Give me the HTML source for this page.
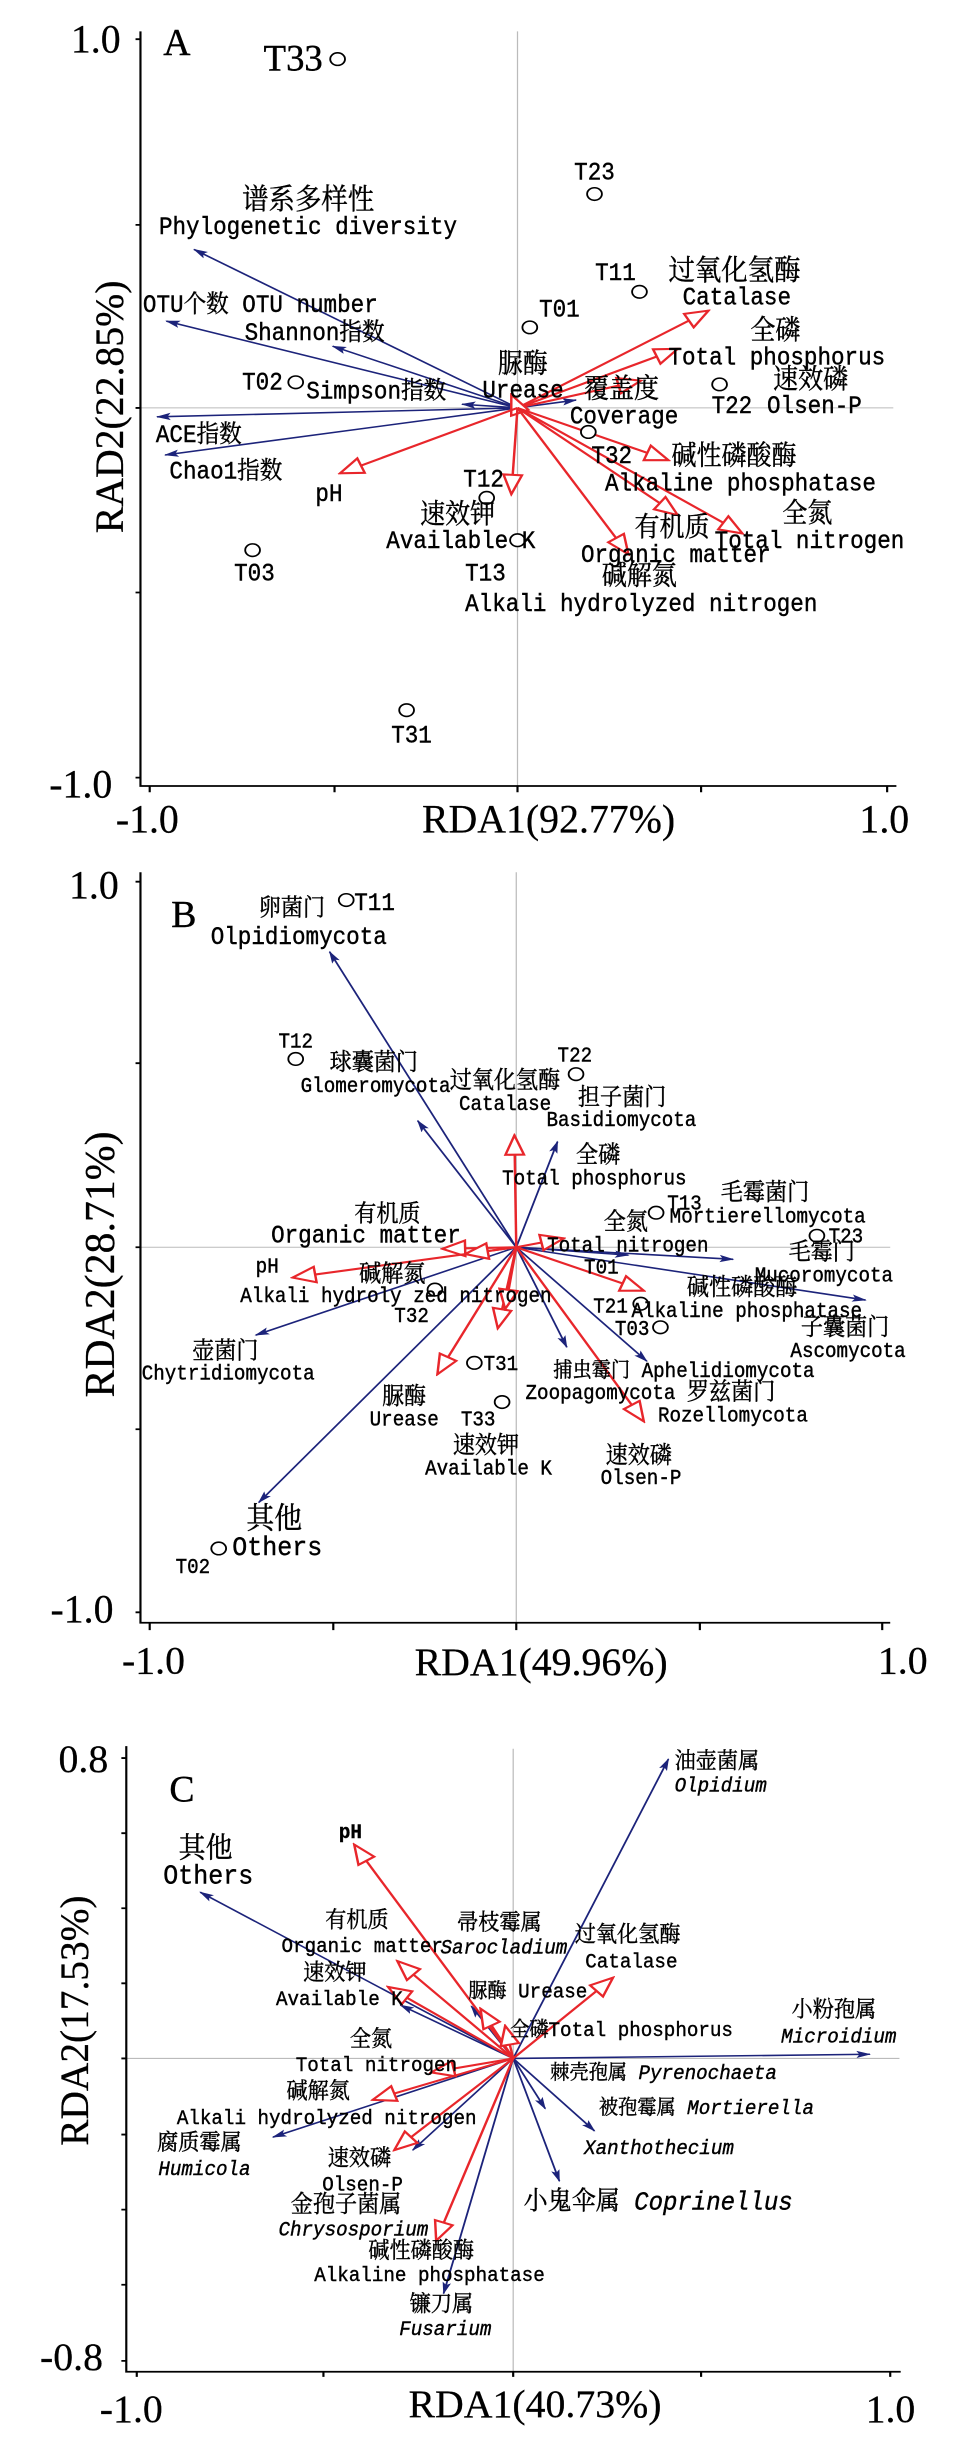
<!DOCTYPE html>
<html><head><meta charset="utf-8"><style>
html,body{margin:0;padding:0;background:#fff;width:966px;height:2452px;overflow:hidden}
svg{display:block;overflow:visible}
text{font-family:"Liberation Mono","Noto Serif CJK SC",serif;fill:#000;stroke:#000;stroke-width:0.8}
.s{font-size:47px}.b{font-size:40px}.c{font-size:40px}
.L{font-size:72px;font-family:"Liberation Serif","Noto Serif CJK SC",serif}
.ax text{font-family:"Liberation Serif","Noto Serif CJK SC",serif;font-size:76px;stroke-width:0.5}
.it{font-style:italic}
.bl{stroke:#1c237a;stroke-width:3;fill:none}
.rd{stroke:#e8262b;stroke-width:4;fill:none}
.ax-l{stroke:#000;stroke-width:3.5;fill:none}
.gr{stroke:#bbb;stroke-width:2}
</style></head><body>
<svg width="0" height="0" style="position:absolute"><defs>
<marker id="mb" viewBox="0 0 24 16" refX="22" refY="8" markerWidth="24" markerHeight="16" markerUnits="userSpaceOnUse" orient="auto"><path d="M0,1 L24,8 L0,15 L5,8 z" fill="#1c237a"/></marker>
<marker id="mr" viewBox="0 0 44 36" refX="40" refY="18" markerWidth="44" markerHeight="36" markerUnits="userSpaceOnUse" orient="auto"><path d="M3,3 L40,18 L3,33 z" fill="#fff" stroke="#e8262b" stroke-width="4"/></marker>
</defs></svg>

<!-- Panel A -->
<svg width="966" height="820" viewBox="0 0 1568 1568" preserveAspectRatio="none">
<line class="gr" x1="840" y1="60" x2="840" y2="1503"/><line class="gr" x1="228" y1="780" x2="1450" y2="780"/>
<path class="ax-l" d="M228,60 V1503 H1455"/>
<path class="ax-l" d="M228,75 h-8 M228,430 h-8 M228,780 h-8 M228,1133 h-8 M228,1487 h-8 M243,1503 v12 M543,1503 v12 M840,1503 v12 M1138,1503 v12 M1440,1503 v12"/>
<g class="bl" marker-end="url(#mb)">
<line x1="840" y1="780" x2="315" y2="477"/><line x1="840" y1="780" x2="270" y2="614"/>
<line x1="840" y1="780" x2="540" y2="662"/><line x1="840" y1="780" x2="750" y2="773"/>
<line x1="840" y1="780" x2="255" y2="797"/><line x1="840" y1="780" x2="268" y2="870"/>
<line x1="840" y1="780" x2="935" y2="765"/></g>
<g class="rd" marker-end="url(#mr)">
<line x1="840" y1="780" x2="1150" y2="594"/><line x1="840" y1="780" x2="1100" y2="667"/>
<line x1="840" y1="780" x2="1040" y2="728"/><line x1="840" y1="780" x2="830" y2="755"/>
<line x1="840" y1="780" x2="1085" y2="880"/><line x1="840" y1="780" x2="1205" y2="1020"/>
<line x1="840" y1="780" x2="1100" y2="985"/><line x1="840" y1="780" x2="1020" y2="1060"/>
<line x1="840" y1="780" x2="552" y2="905"/><line x1="840" y1="780" x2="830" y2="945"/></g>
<g fill="#fff" stroke="#000" stroke-width="3">
<circle cx="548" cy="113" r="12"/><circle cx="965" cy="371" r="12"/><circle cx="1038" cy="558" r="12"/><circle cx="860" cy="626" r="12"/><circle cx="480" cy="731" r="12"/><circle cx="1168" cy="735" r="12"/><circle cx="955" cy="826" r="12"/><circle cx="790" cy="952" r="12"/><circle cx="840" cy="1033" r="12"/><circle cx="410" cy="1052" r="12"/><circle cx="660" cy="1358" r="12"/></g>
<g class="s">
<text class="L" transform="matrix(.85 0 0 1 265 105)">A</text>
<text class="L" style="font-size:70px" transform="matrix(.85 0 0 1 428 135)">T33</text>
<text transform="matrix(.78 0 0 1 932 343)">T23</text><text transform="matrix(.78 0 0 1 966 535)">T11</text>
<text transform="matrix(.78 0 0 1 875 605)">T01</text><text transform="matrix(.78 0 0 1 393 745)">T02</text>
<text transform="matrix(.78 0 0 1 1155 790)">T22</text><text transform="matrix(.78 0 0 1 960 885)">T32</text>
<text transform="matrix(.78 0 0 1 752 930)">T12</text><text transform="matrix(.78 0 0 1 755 1110)">T13</text>
<text transform="matrix(.78 0 0 1 380 1110)">T03</text><text transform="matrix(.78 0 0 1 635 1420)">T31</text>
<text transform="matrix(.78 0 0 1 393 400)" style="font-size:55px">谱系多样性</text>
<text transform="matrix(.78 0 0 1 258 447)">Phylogenetic diversity</text>
<text transform="matrix(.78 0 0 1 232 597)">OTU个数  OTU number</text>
<text transform="matrix(.78 0 0 1 397 650)">Shannon指数</text>
<text transform="matrix(.78 0 0 1 497 762)">Simpson指数</text>
<text transform="matrix(.78 0 0 1 253 845)">ACE指数</text>
<text transform="matrix(.78 0 0 1 275 915)">Chao1指数</text>
<text transform="matrix(.78 0 0 1 512 958)">pH</text>
<text transform="matrix(.78 0 0 1 808 712)" style="font-size:52px">脲酶</text>
<text transform="matrix(.78 0 0 1 783 760)">Urease</text>
<text transform="matrix(.78 0 0 1 948 760)" style="font-size:52px">覆盖度</text>
<text transform="matrix(.78 0 0 1 925 810)">Coverage</text>
<text transform="matrix(.78 0 0 1 1085 535)" style="font-size:55px">过氧化氢酶</text>
<text transform="matrix(.78 0 0 1 1108 582)">Catalase</text>
<text transform="matrix(.78 0 0 1 1218 648)" style="font-size:52px">全磷</text>
<text transform="matrix(.78 0 0 1 1085 697)">Total phosphorus</text>
<text transform="matrix(.78 0 0 1 1255 742)" style="font-size:52px">速效磷</text>
<text transform="matrix(.78 0 0 1 1245 790)">Olsen-P</text>
<text transform="matrix(.78 0 0 1 1090 888)" style="font-size:52px">碱性磷酸酶</text>
<text transform="matrix(.78 0 0 1 982 938)">Alkaline phosphatase</text>
<text transform="matrix(.78 0 0 1 1270 998)" style="font-size:52px">全氮</text>
<text transform="matrix(.78 0 0 1 1160 1048)">Total nitrogen</text>
<text transform="matrix(.78 0 0 1 1030 1025)" style="font-size:52px">有机质</text>
<text transform="matrix(.78 0 0 1 943 1075)">Organic matter</text>
<text transform="matrix(.78 0 0 1 977 1118)" style="font-size:52px">碱解氮</text>
<text transform="matrix(.78 0 0 1 755 1168)">Alkali hydrolyzed nitrogen</text>
<text transform="matrix(.78 0 0 1 682 1000)" style="font-size:52px">速效钾</text>
<text transform="matrix(.78 0 0 1 627 1048)">Available K</text>
</g>
<g class="ax">
<text transform="matrix(.85 0 0 1 115 100)">1.0</text>
<text transform="matrix(.85 0 0 1 80 1525)">-1.0</text>
<text transform="matrix(.85 0 0 1 188 1592)">-1.0</text>
<text transform="matrix(.85 0 0 1 685 1592)">RDA1(92.77%)</text>
<text transform="matrix(.85 0 0 1 1395 1592)">1.0</text>
<text text-anchor="middle" transform="translate(200,778) rotate(-90) scale(1,.85)">RAD2(22.85%)</text>
</g>
</svg>

<!-- Panel B -->
<svg width="966" height="820" viewBox="0 0 1568 1568" preserveAspectRatio="none">
<line class="gr" x1="838" y1="100" x2="838" y2="1535"/><line class="gr" x1="228" y1="817" x2="1445" y2="817"/>
<path class="ax-l" d="M228,100 V1535 H1445"/>
<path class="ax-l" d="M228,118 h-8 M228,465 h-8 M228,817 h-8 M228,1165 h-8 M228,1515 h-8 M243,1535 v14 M541,1535 v14 M838,1535 v14 M1136,1535 v14 M1432,1535 v14"/>
<g class="bl" marker-end="url(#mb)">
<line x1="838" y1="817" x2="535" y2="252"/><line x1="838" y1="817" x2="678" y2="575"/>
<line x1="838" y1="817" x2="905" y2="615"/><line x1="838" y1="817" x2="1020" y2="832"/>
<line x1="838" y1="817" x2="1190" y2="840"/><line x1="838" y1="817" x2="1405" y2="918"/>
<line x1="838" y1="817" x2="1050" y2="1035"/><line x1="838" y1="817" x2="920" y2="1008"/>
<line x1="838" y1="817" x2="415" y2="985"/><line x1="838" y1="817" x2="420" y2="1305"/></g>
<g class="rd" marker-end="url(#mr)">
<line x1="838" y1="817" x2="835" y2="603"/><line x1="838" y1="817" x2="915" y2="800"/>
<line x1="838" y1="817" x2="718" y2="820"/><line x1="838" y1="817" x2="475" y2="875"/>
<line x1="838" y1="817" x2="755" y2="830"/><line x1="838" y1="817" x2="1045" y2="900"/>
<line x1="838" y1="817" x2="1045" y2="1150"/><line x1="838" y1="817" x2="710" y2="1060"/>
<line x1="838" y1="817" x2="808" y2="972"/><line x1="838" y1="817" x2="820" y2="935"/></g>
<g fill="#fff" stroke="#000" stroke-width="3">
<circle cx="562" cy="153" r="12"/><circle cx="480" cy="457" r="12"/><circle cx="935" cy="486" r="12"/><circle cx="1065" cy="751" r="12"/><circle cx="1326" cy="795" r="12"/><circle cx="706" cy="898" r="12"/><circle cx="1040" cy="925" r="12"/><circle cx="1072" cy="970" r="12"/><circle cx="770" cy="1038" r="12"/><circle cx="815" cy="1113" r="12"/><circle cx="355" cy="1393" r="12"/></g>
<g class="b">
<text class="L" transform="matrix(.85 0 0 1 278 205)">B</text>
<text transform="matrix(.78 0 0 1 420 183)" style="font-size:46px">卵菌门</text>
<text transform="matrix(.78 0 0 1 575 172)" style="font-size:47px">T11</text>
<text transform="matrix(.78 0 0 1 342 237)" style="font-size:47px">Olpidiomycota</text>
<text transform="matrix(.78 0 0 1 452 435)">T12</text>
<text transform="matrix(.78 0 0 1 535 478)" style="font-size:46px">球囊菌门</text>
<text transform="matrix(.78 0 0 1 488 520)">Glomeromycota</text>
<text transform="matrix(.78 0 0 1 730 512)" style="font-size:46px">过氧化氢酶</text>
<text transform="matrix(.78 0 0 1 745 555)">Catalase</text>
<text transform="matrix(.78 0 0 1 905 462)">T22</text>
<text transform="matrix(.78 0 0 1 938 545)" style="font-size:46px">担子菌门</text>
<text transform="matrix(.78 0 0 1 887 585)">Basidiomycota</text>
<text transform="matrix(.78 0 0 1 935 655)" style="font-size:46px">全磷</text>
<text transform="matrix(.78 0 0 1 815 697)">Total phosphorus</text>
<text transform="matrix(.78 0 0 1 1170 727)" style="font-size:46px">毛霉菌门</text>
<text transform="matrix(.78 0 0 1 1083 745)">T13</text>
<text transform="matrix(.78 0 0 1 1087 770)">Mortierellomycota</text>
<text transform="matrix(.78 0 0 1 980 783)" style="font-size:46px">全氮</text>
<text transform="matrix(.78 0 0 1 888 825)">Total nitrogen</text>
<text transform="matrix(.78 0 0 1 1345 808)">T23</text>
<text transform="matrix(.78 0 0 1 1280 840)" style="font-size:46px">毛霉门</text>
<text transform="matrix(.78 0 0 1 1225 882)">Mucoromycota</text>
<text transform="matrix(.78 0 0 1 575 768)" style="font-size:46px">有机质</text>
<text transform="matrix(.78 0 0 1 440 808)" style="font-size:47px">Organic matter</text>
<text transform="matrix(.78 0 0 1 415 865)">pH</text>
<text transform="matrix(.78 0 0 1 583 882)" style="font-size:46px">碱解氮</text>
<text transform="matrix(.78 0 0 1 390 922)">Alkali hydroly zed nitrogen</text>
<text transform="matrix(.78 0 0 1 948 867)">T01</text>
<text transform="matrix(.78 0 0 1 1115 908)" style="font-size:46px">碱性磷酸酶</text>
<text transform="matrix(.78 0 0 1 963 942)">T21</text>
<text transform="matrix(.78 0 0 1 1025 950)">Alkaline phosphatase</text>
<text transform="matrix(.78 0 0 1 998 985)">T03</text>
<text transform="matrix(.78 0 0 1 640 960)">T32</text>
<text transform="matrix(.78 0 0 1 1300 985)" style="font-size:46px">子囊菌门</text>
<text transform="matrix(.78 0 0 1 1283 1027)">Ascomycota</text>
<text transform="matrix(.78 0 0 1 312 1030)" style="font-size:46px">壶菌门</text>
<text transform="matrix(.78 0 0 1 230 1070)">Chytridiomycota</text>
<text transform="matrix(.78 0 0 1 785 1052)">T31</text>
<text transform="matrix(.78 0 0 1 898 1065)">捕虫霉门 Aphelidiomycota</text>
<text transform="matrix(.78 0 0 1 853 1107)">Zoopagomycota</text>
<text transform="matrix(.78 0 0 1 1115 1108)" style="font-size:46px">罗兹菌门</text>
<text transform="matrix(.78 0 0 1 1068 1150)">Rozellomycota</text>
<text transform="matrix(.78 0 0 1 620 1117)" style="font-size:46px">脲酶</text>
<text transform="matrix(.78 0 0 1 600 1158)">Urease</text>
<text transform="matrix(.78 0 0 1 748 1158)">T33</text>
<text transform="matrix(.78 0 0 1 735 1210)" style="font-size:46px">速效钾</text>
<text transform="matrix(.78 0 0 1 690 1252)">Available K</text>
<text transform="matrix(.78 0 0 1 983 1230)" style="font-size:46px">速效磷</text>
<text transform="matrix(.78 0 0 1 975 1270)">Olsen-P</text>
<text transform="matrix(.78 0 0 1 400 1355)" style="font-size:58px">其他</text>
<text transform="matrix(.78 0 0 1 377 1405)" style="font-size:52px">Others</text>
<text transform="matrix(.78 0 0 1 285 1440)">T02</text>
</g>
<g class="ax">
<text transform="matrix(.85 0 0 1 112 150)">1.0</text>
<text transform="matrix(.85 0 0 1 82 1535)">-1.0</text>
<text style="font-size:80px" text-anchor="middle" transform="translate(185,850) rotate(-90) scale(1,.85)">RDA2(28.71%)</text>
</g>
</svg>

<!-- Panel C -->
<svg width="966" height="812" viewBox="0 0 1568 1568" preserveAspectRatio="none">
<g class="ax">
<text transform="matrix(.85 0 0 1 198 65)">-1.0</text>
<text transform="matrix(.85 0 0 1 673 68)">RDA1(49.96%)</text>
<text transform="matrix(.85 0 0 1 1425 65)">1.0</text>
</g>
<line class="gr" x1="833" y1="210" x2="833" y2="1413"/><line class="gr" x1="205" y1="808" x2="1460" y2="808"/>
<path class="ax-l" d="M205,205 V1413 H1462"/>
<path class="ax-l" d="M205,228 h-8 M205,373 h-8 M205,518 h-8 M205,663 h-8 M205,808 h-8 M205,955 h-8 M205,1100 h-8 M205,1245 h-8 M205,1392 h-8 M222,1413 v10 M525,1413 v10 M833,1413 v10 M1138,1413 v10 M1445,1413 v10"/>
<g class="bl" marker-end="url(#mb)">
<line x1="833" y1="808" x2="1085" y2="230"/><line x1="833" y1="808" x2="325" y2="487"/>
<line x1="833" y1="808" x2="1412" y2="800"/><line x1="833" y1="808" x2="443" y2="960"/>
<line x1="833" y1="808" x2="720" y2="1262"/><line x1="833" y1="808" x2="908" y2="1045"/>
<line x1="833" y1="808" x2="965" y2="948"/><line x1="833" y1="808" x2="885" y2="905"/>
<line x1="833" y1="808" x2="765" y2="707"/><line x1="833" y1="808" x2="650" y2="705"/>
<line x1="833" y1="808" x2="670" y2="985"/></g>
<g class="rd" marker-end="url(#mr)">
<line x1="833" y1="808" x2="575" y2="395"/><line x1="833" y1="808" x2="645" y2="620"/>
<line x1="833" y1="808" x2="630" y2="670"/><line x1="833" y1="808" x2="780" y2="712"/>
<line x1="833" y1="808" x2="995" y2="652"/><line x1="833" y1="808" x2="820" y2="745"/>
<line x1="833" y1="808" x2="700" y2="835"/><line x1="833" y1="808" x2="605" y2="888"/>
<line x1="833" y1="808" x2="640" y2="985"/><line x1="833" y1="808" x2="708" y2="1160"/></g>
<g class="c">
<text class="L" transform="matrix(.85 0 0 1 275 312)">C</text>
<text transform="matrix(.78 0 0 1 1095 248)" style="font-size:44px">油壶菌属</text>
<text class="it" transform="matrix(.78 0 0 1 1095 293)">Olpidium</text>
<text transform="matrix(.78 0 0 1 290 420)" style="font-size:56px">其他</text>
<text transform="matrix(.78 0 0 1 265 470)" style="font-size:52px">Others</text>
<text transform="matrix(.78 0 0 1 550 382)" style="font-weight:bold">pH</text>
<text transform="matrix(.78 0 0 1 528 555)" style="font-size:44px">有机质</text>
<text transform="matrix(.78 0 0 1 457 602)">Organic matter</text>
<text transform="matrix(.78 0 0 1 742 560)" style="font-size:44px">帚枝霉属</text>
<text class="it" transform="matrix(.78 0 0 1 715 605)">Sarocladium</text>
<text transform="matrix(.78 0 0 1 933 583)" style="font-size:44px">过氧化氢酶</text>
<text transform="matrix(.78 0 0 1 950 632)">Catalase</text>
<text transform="matrix(.78 0 0 1 492 657)" style="font-size:44px">速效钾</text>
<text transform="matrix(.78 0 0 1 448 705)">Available K</text>
<text transform="matrix(.78 0 0 1 760 690)">脲酶 Urease</text>
<text transform="matrix(.78 0 0 1 828 765)">全磷Total phosphorus</text>
<text transform="matrix(.78 0 0 1 1285 728)" style="font-size:44px">小粉孢属</text>
<text class="it" transform="matrix(.78 0 0 1 1268 777)">Microidium</text>
<text transform="matrix(.78 0 0 1 568 785)" style="font-size:44px">全氮</text>
<text transform="matrix(.78 0 0 1 480 832)">Total nitrogen</text>
<text transform="matrix(.78 0 0 1 893 848)">棘壳孢属 <tspan class="it">Pyrenochaeta</tspan></text>
<text transform="matrix(.78 0 0 1 465 885)" style="font-size:44px">碱解氮</text>
<text transform="matrix(.78 0 0 1 287 935)">Alkali hydrolyzed nitrogen</text>
<text transform="matrix(.78 0 0 1 972 915)">被孢霉属 <tspan class="it">Mortierella</tspan></text>
<text transform="matrix(.78 0 0 1 255 985)" style="font-size:44px">腐质霉属</text>
<text class="it" transform="matrix(.78 0 0 1 257 1033)">Humicola</text>
<text class="it" transform="matrix(.78 0 0 1 948 993)">Xanthothecium</text>
<text transform="matrix(.78 0 0 1 532 1015)" style="font-size:44px">速效磷</text>
<text transform="matrix(.78 0 0 1 523 1063)">Olsen-P</text>
<text transform="matrix(.78 0 0 1 472 1105)" style="font-size:46px">金孢子菌属</text>
<text class="it" transform="matrix(.78 0 0 1 452 1150)">Chrysosporium</text>
<text transform="matrix(.78 0 0 1 850 1100)" style="font-size:50px">小鬼伞属 <tspan class="it">Coprinellus</tspan></text>
<text transform="matrix(.78 0 0 1 598 1193)" style="font-size:44px">碱性磷酸酶</text>
<text transform="matrix(.78 0 0 1 510 1238)">Alkaline phosphatase</text>
<text transform="matrix(.78 0 0 1 665 1297)" style="font-size:44px">镰刀属</text>
<text class="it" transform="matrix(.78 0 0 1 648 1342)">Fusarium</text>
</g>
<g class="ax">
<text transform="matrix(.85 0 0 1 95 255)">0.8</text>
<text transform="matrix(.85 0 0 1 65 1410)">-0.8</text>
<text transform="matrix(.85 0 0 1 162 1510)">-1.0</text>
<text transform="matrix(.85 0 0 1 663 1500)">RDA1(40.73%)</text>
<text transform="matrix(.85 0 0 1 1405 1510)">1.0</text>
<text text-anchor="middle" transform="translate(143,735) rotate(-90) scale(1,.85)">RDA2(17.53%)</text>
</g>
</svg>
</body></html>
